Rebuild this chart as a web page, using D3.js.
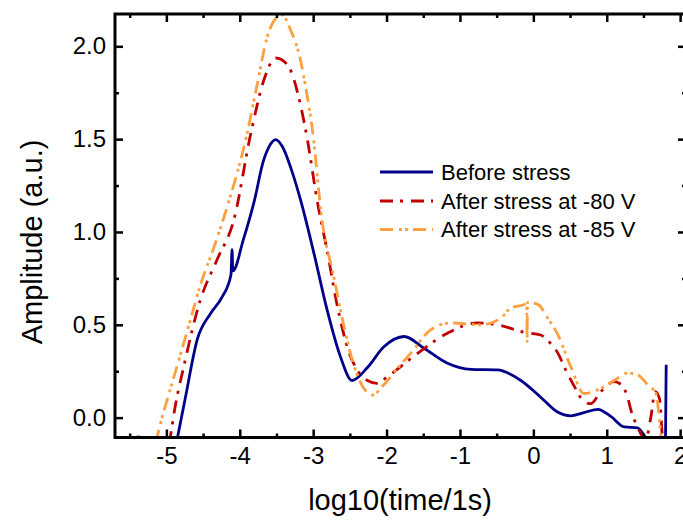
<!DOCTYPE html>
<html><head><meta charset="utf-8">
<script src="https://cdn.jsdelivr.net/npm/d3@7/dist/d3.min.js"></script>
<style>body{margin:0;background:#fff}svg{display:block}text{font-family:"Liberation Sans",Arial,sans-serif}</style>
</head><body><svg id="c" width="683" height="520"></svg>
<script>
const seriesNames = ["Before stress", "After stress at -80 V", "After stress at -85 V"];
const xTicks = [-5, -4, -3, -2, -1, 0, 1, 2];
const xTickLabels = ["-5", "-4", "-3", "-2", "-1", "0", "1", "2"];
const yTicks = [0.0, 0.5, 1.0, 1.5, 2.0];
const yTickLabels = ["0.0", "0.5", "1.0", "1.5", "2.0"];
const before = [[-5.55,-0.15],[-5.38,-0.104],[-5.22,-0.15],[-4.95,-0.32],[-4.85,-0.11],[-4.74,0.11],[-4.58,0.42],[-4.40,0.56],[-4.24,0.65],[-4.12,0.77],[-4.105,0.905],[-4.095,0.79],[-3.95,0.96],[-3.80,1.17],[-3.68,1.38],[-3.60,1.46],[-3.51,1.497],[-3.42,1.46],[-3.30,1.34],[-3.17,1.17],[-2.99,0.886],[-2.81,0.58],[-2.63,0.33],[-2.47,0.20],[-2.26,0.27],[-2.04,0.38],[-1.76,0.437],[-1.49,0.374],[-1.17,0.293],[-0.85,0.26],[-0.49,0.257],[-0.17,0.20],[0.10,0.11],[0.33,0.03],[0.51,0.01],[0.69,0.027],[0.88,0.045],[1.06,0.005],[1.24,-0.05],[1.42,-0.055],[1.53,-0.11],[1.65,-0.2],[1.80,-0.15],[1.81,0.285]];
const after80 = [[-5.1,-0.3],[-4.95,-0.11],[-4.88,0.06],[-4.76,0.28],[-4.54,0.63],[-4.31,0.85],[-4.08,1.066],[-3.85,1.53],[-3.67,1.82],[-3.51,1.937],[-3.35,1.90],[-3.17,1.68],[-3.08,1.50],[-2.94,1.156],[-2.81,0.90],[-2.67,0.60],[-2.51,0.35],[-2.40,0.257],[-2.26,0.20],[-2.13,0.185],[-1.99,0.22],[-1.63,0.33],[-1.17,0.455],[-0.76,0.51],[-0.49,0.50],[-0.13,0.46],[0.10,0.445],[0.21,0.41],[0.33,0.35],[0.45,0.25],[0.56,0.167],[0.66,0.10],[0.78,0.075],[0.92,0.14],[1.10,0.194],[1.17,0.185],[1.285,0.11],[1.33,0.04],[1.42,-0.05],[1.53,-0.12],[1.60,0.0],[1.66,0.14],[1.72,0.10],[1.76,-0.12],[1.80,-0.3]];
const after85 = [[-5.3,-0.3],[-5.13,-0.11],[-5.06,0.0],[-4.99,0.095],[-4.83,0.31],[-4.67,0.53],[-4.54,0.71],[-4.35,0.92],[-4.17,1.137],[-3.90,1.53],[-3.76,1.80],[-3.63,2.045],[-3.53,2.14],[-3.42,2.17],[-3.31,2.09],[-3.19,1.955],[-3.08,1.73],[-3.01,1.55],[-2.88,1.066],[-2.72,0.76],[-2.58,0.49],[-2.44,0.275],[-2.31,0.158],[-2.19,0.122],[-2.04,0.176],[-1.83,0.275],[-1.67,0.347],[-1.40,0.473],[-1.13,0.51],[-0.72,0.50],[-0.44,0.536],[-0.31,0.59],[-0.12,0.61],[-0.09,0.62],[-0.085,0.41],[-0.08,0.62],[0.06,0.61],[0.21,0.527],[0.33,0.45],[0.51,0.275],[0.69,0.13],[0.88,0.15],[1.10,0.20],[1.285,0.24],[1.42,0.23],[1.56,0.176],[1.67,0.13],[1.72,-0.02],[1.76,-0.2]];
const seriesData = [before, after80, after85];
const colors = ["#00008B", "#C00000", "#FFA040"];
const dashes = [null, "13,7,3,8", "13,6,3,3,3,5"];

const L = 115, R = 686, T = 14, B = 437.5;
const x = d3.scaleLinear().domain([-5.70, 2.08]).range([L, R]);
const y = d3.scaleLinear().domain([-0.107, 2.174]).range([B, T]);
const svg = d3.select("#c");

svg.append("clipPath").attr("id","clip").append("rect").attr("x",L).attr("y",T).attr("width",R-L).attr("height",B-T);

const line = d3.line().x(d=>x(d[0])).y(d=>y(d[1])).curve(d3.curveMonotoneX);
const g = svg.append("g").attr("clip-path","url(#clip)");
seriesData.forEach((s,i)=>{
  g.append("path").datum(s).attr("d",line).attr("fill","none")
   .attr("stroke",colors[i]).attr("stroke-width",2.8)
   .attr("stroke-dasharray",dashes[i]);
});

const xMinor = d3.range(-5.5, 2.1, 1);
const yMinor = [0.25, 0.75, 1.25, 1.75];
function styleAxis(sel){ sel.select(".domain").remove(); sel.selectAll("line").attr("stroke","#000").attr("stroke-width",2.5); sel.selectAll("text").attr("font-size",24).attr("fill","#000"); }
svg.append("g").attr("transform",`translate(0,${B})`).call(d3.axisBottom(x).tickValues(xTicks).tickSize(-8).tickPadding(9).tickFormat((d,i)=>xTickLabels[i])).call(styleAxis);
svg.append("g").attr("transform",`translate(0,${B})`).call(d3.axisBottom(x).tickValues(xMinor).tickSize(-4).tickFormat("")).call(styleAxis);
svg.append("g").attr("transform",`translate(0,${T})`).call(d3.axisTop(x).tickValues(xTicks).tickSize(-8).tickFormat("")).call(styleAxis);
svg.append("g").attr("transform",`translate(0,${T})`).call(d3.axisTop(x).tickValues(xMinor).tickSize(-4).tickFormat("")).call(styleAxis);
svg.append("g").attr("transform",`translate(${L},0)`).call(d3.axisLeft(y).tickValues(yTicks).tickSize(-8).tickPadding(9).tickFormat((d,i)=>yTickLabels[i])).call(styleAxis);
svg.append("g").attr("transform",`translate(${L},0)`).call(d3.axisLeft(y).tickValues(yMinor).tickSize(-4).tickFormat("")).call(styleAxis);
svg.append("g").attr("transform",`translate(${R},0)`).call(d3.axisRight(y).tickValues(yTicks).tickSize(-8).tickFormat("")).call(styleAxis);
svg.append("g").attr("transform",`translate(${R},0)`).call(d3.axisRight(y).tickValues(yMinor).tickSize(-4).tickFormat("")).call(styleAxis);
svg.append("rect").attr("x",L).attr("y",T).attr("width",R-L).attr("height",B-T).attr("fill","none").attr("stroke","#000").attr("stroke-width",3);

svg.append("text").attr("x",400).attr("y",510).attr("text-anchor","middle").attr("font-size",29).text("log10(time/1s)");
svg.append("text").attr("transform","translate(42,242) rotate(-90)").attr("text-anchor","middle").attr("font-size",29).text("Amplitude (a.u.)");

const leg = svg.append("g");
const legY = [172, 201, 229.5];
seriesNames.forEach((n,i)=>{
  leg.append("line").attr("x1",380).attr("x2",433).attr("y1",legY[i]).attr("y2",legY[i])
    .attr("stroke",colors[i]).attr("stroke-width",2.8).attr("stroke-dasharray",dashes[i]);
  leg.append("text").attr("x",441).attr("y",legY[i]).attr("dy","0.35em").attr("font-size",22).text(n);
});
</script></body></html>
